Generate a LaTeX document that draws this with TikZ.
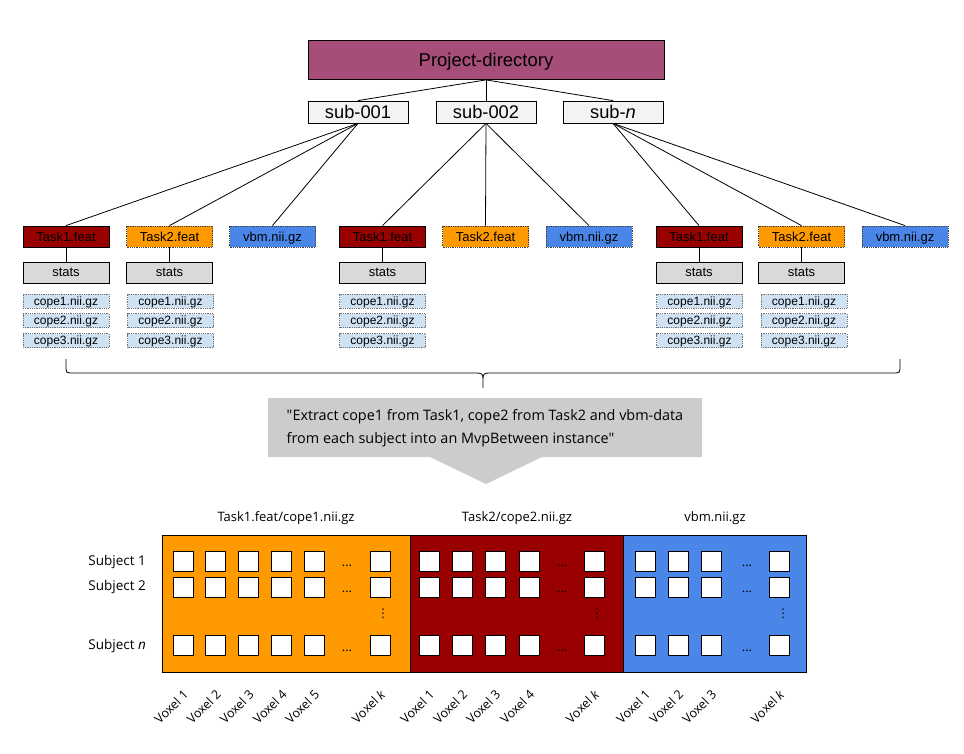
\documentclass[tikz,border=0pt]{standalone}
\usepackage{fontspec}
\setmainfont{Liberation Sans}
\newfontfamily\osans{Open Sans}
\newfontfamily\djv{DejaVu Sans}
\definecolor{projcol}{HTML}{A64D79}
\definecolor{subcol}{HTML}{F3F3F3}
\definecolor{taskred}{HTML}{990000}
\definecolor{taskorange}{HTML}{FF9900}
\definecolor{vbmblue}{HTML}{4A86E8}
\definecolor{statgray}{HTML}{D9D9D9}
\definecolor{copeblue}{HTML}{CFE2F3}
\definecolor{callgray}{HTML}{CCCCCC}
\begin{document}
\begin{tikzpicture}[x=1pt,y=-1pt,
  box/.style={draw=black, line width=0.8pt, inner sep=0pt, text depth=0pt, minimum height=21pt, minimum width=86pt, font=\fontsize{13}{15}\selectfont},
  projbox/.style={box, fill=projcol, minimum width=356pt, minimum height=39pt, font=\fontsize{18.5}{21}\selectfont},
  subbox/.style={box, fill=subcol, minimum width=100pt, minimum height=22pt, font=\fontsize{18.3}{21}\selectfont},
  tone/.style={box, fill=taskred},
  ttwo/.style={box, fill=taskorange, draw=black!75, densely dotted},
  vbbox/.style={box, fill=vbmblue, draw=black!75, densely dotted},
  stbox/.style={box, fill=statgray},
  cpbox/.style={box, minimum height=14pt, fill=copeblue, draw=black!55, densely dotted, font=\fontsize{12}{14}\selectfont},
  conn/.style={line width=0.8pt},
  cell/.style={draw=black, fill=white, minimum size=20pt, inner sep=0pt, line width=0.8pt},
  hdots/.style={font=\osans\fontsize{13}{15}\selectfont, inner sep=0pt},
  vdotsnode/.style={inner sep=0pt, font=\djv\fontsize{12}{13}\selectfont},
  colhead/.style={font=\osans\fontsize{13}{15}\selectfont, inner sep=0pt},
  subjlab/.style={font=\osans\fontsize{13.5}{15}\selectfont, inner sep=0pt, anchor=east},
  voxlab/.style={font=\osans\fontsize{12.5}{14}\selectfont, inner sep=0pt, anchor=east, rotate=45},
  blockbox/.style={draw=black, line width=0.8pt}
]
\useasboundingbox (0,0) rectangle (964,754);

% top tree
\node[projbox] (proj) at (486,60) {Project-directory};
\node[subbox] (s1) at (358,112) {sub-001};
\node[subbox] (s2) at (486,112) {sub-002};
\node[subbox] (s3) at (613,112) {sub-\textit{n}};
\foreach \s in {s1,s2,s3} \draw[conn] (proj.south) -- (\s.north);

% group 1
\node[tone] (a1) at (66,236.5) {Task1.feat};
\node[ttwo] (a2) at (169.5,236.5) {Task2.feat};
\node[vbbox] (a3) at (272.5,236.5) {vbm.nii.gz};
\node[stbox] (as1) at (66,272.5) {stats};
\node[stbox] (as2) at (169.5,272.5) {stats};
% group 2
\node[tone] (b1) at (382.5,236.5) {Task1.feat};
\node[ttwo] (b2) at (485.5,236.5) {Task2.feat};
\node[vbbox] (b3) at (589,236.5) {vbm.nii.gz};
\node[stbox] (bs1) at (382.5,272.5) {stats};
% group 3
\node[tone] (c1) at (699,236.5) {Task1.feat};
\node[ttwo] (c2) at (801.5,236.5) {Task2.feat};
\node[vbbox] (c3) at (905,236.5) {vbm.nii.gz};
\node[stbox] (cs1) at (699,272.5) {stats};
\node[stbox] (cs2) at (801.5,272.5) {stats};

\foreach \t in {a1,a2,a3} \draw[conn] (s1.south) -- (\t.north);
\foreach \t in {b1,b2,b3} \draw[conn] (s2.south) -- (\t.north);
\foreach \t in {c1,c2,c3} \draw[conn] (s3.south) -- (\t.north);
\draw[conn] (a1.south) -- (as1.north);
\draw[conn] (a2.south) -- (as2.north);
\draw[conn] (b1.south) -- (bs1.north);
\draw[conn] (c1.south) -- (cs1.north);
\draw[conn] (c2.south) -- (cs2.north);

% cope files
\foreach \g/\x in {ca/66, cb/170.5, cc/382.5, cd/699.5, ce/804} {
  \node[cpbox] (\g1) at (\x,301) {cope1.nii.gz};
  \node[cpbox] (\g2) at (\x,320.5) {cope2.nii.gz};
  \node[cpbox] (\g3) at (\x,340.5) {cope3.nii.gz};
}

% brace
\draw[line width=0.8pt] (66,359) -- (66,369) .. controls (66,372) and (67,373) .. (70,373) -- (477,373) .. controls (481,373) and (483,374) .. (483,378) -- (483,388);
\draw[line width=0.8pt] (900,359) -- (900,369) .. controls (900,372) and (899,373) .. (896,373) -- (489,373) .. controls (485,373) and (483,374) .. (483,378);

% callout
\fill[callgray] (268,398) -- (702,398) -- (702,457) -- (542,457) -- (486,484) -- (430,457) -- (268,457) -- cycle;
\node[font=\osans\fontsize{14.4}{22.5}\selectfont, align=left, inner sep=0pt] (callout) at (485,428)
  {"Extract cope1 from Task1, cope2 from Task2 and vbm-data\\from each subject into an MvpBetween instance"};

% matrix blocks
\draw[blockbox, fill=taskorange] (162,535) rectangle (410,672);
\draw[blockbox, fill=taskred] (410,535) rectangle (623,672);
\draw[blockbox, fill=vbmblue] (623,535) rectangle (806,672);

\node[colhead] (h1) at (286,518) {Task1.feat/cope1.nii.gz};
\node[colhead] (h2) at (517,518) {Task2/cope2.nii.gz};
\node[colhead] (h3) at (715,518) {vbm.nii.gz};

\node[subjlab] (r1) at (146,562) {Subject 1};
\node[subjlab] (r2) at (146,587) {Subject 2};
\node[subjlab] (rn) at (146,646) {Subject \textit{n}};

\foreach \r/\y in {1/561, 2/587, n/645.5} {
  \foreach \c/\x in {1/183, 2/215.5, 3/248.5, 4/281.5, 5/314, k/380} {
    \node[cell] (o\r\c) at (\x,\y) {};
  }
  \foreach \c/\x in {1/429, 2/462, 3/495, 4/529, k/594} {
    \node[cell] (d\r\c) at (\x,\y) {};
  }
  \foreach \c/\x in {1/645, 2/678, 3/711, k/779} {
    \node[cell] (e\r\c) at (\x,\y) {};
  }
  \foreach \x in {347, 562, 747} {
    \node[hdots] at (\x,\y+5) {...};
  }
}
\foreach \x in {383, 597, 783} \node[vdotsnode] at (\x,614) {⋮};

% voxel labels
\foreach \x/\l in {183/1, 215.5/2, 248.5/3, 281.5/4, 314/5, 380/{\textit{k}},
                   429/1, 462/2, 495/3, 529/4, 594/{\textit{k}},
                   645/1, 678/2, 711/3, 779/{\textit{k}}} {
  \node[voxlab] at (\x+3,692) {Voxel \l};
}
\end{tikzpicture}
\end{document}
